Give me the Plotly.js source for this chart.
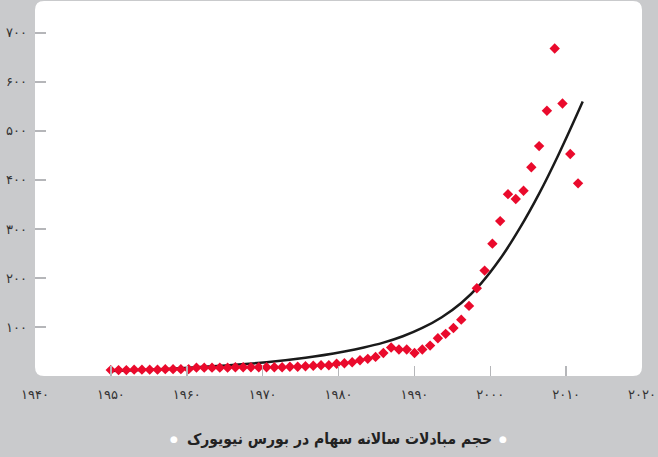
<!DOCTYPE html>
<html>
<head>
<meta charset="utf-8">
<script src="https://cdn.plot.ly/plotly-3.0.1.min.js"></script>
<style>
html,body{margin:0;padding:0;background:#c9cacc;}
#chart{width:658px;height:457px;}
</style>
</head>
<body>
<div id="chart"></div>
<script>
// Annual NYSE share volume (red diamonds)
const years = [];
for (let y = 1950; y <= 2010; y++) years.push(y);
const volumes = [
  12,12,12,13,13,13,13,14,14,14,14,      // 1950-1960
  17,17,17,17,17,18,18,                  // 1961-1967
  18,18,18,18,18,19,19,20,21,22,22,      // 1968-1978
  25,26,28,32,35,39,47,58,54,54,         // 1979-1988
  47,54,62,77,86,98,115,143,179,215,     // 1989-1998
  270,316,371,361,378,426,469,541,668,556, // 1999-2008
  453,393                                // 2009-2010
];
// Trend curve (black line)
const trendYears = [1950,1960,1970,1975,1980,1982.5,1985,1987.5,1990,1992.5,1995,1997.5,2000,2002.5,2005,2007.5,2010.6];
const trendValues = [10,17,28,37,50,58,68,81,98,120,149,188,239,301,372,452,560];

// Axis tick labels
const xTickVals = [1940,1950,1960,1970,1980,1990,2000,2010,2020];
const xTickText = ['۱۹۴۰','۱۹۵۰','۱۹۶۰','۱۹۷۰','۱۹۸۰','۱۹۹۰','۲۰۰۰','۲۰۱۰','۲۰۲۰'];
const yTickVals = [100,200,300,400,500,600,700];
const yTickText = ['۱۰۰','۲۰۰','۳۰۰','۴۰۰','۵۰۰','۶۰۰','۷۰۰'];
const legendText = 'حجم مبادلات سالانه سهام در بورس نیویورک';

const W = 607, H = 375, R = 9;
const rx = R / W, ry = R / H;
const roundedPath = `M ${rx},0 L ${1-rx},0 Q 1,0 1,${ry} L 1,${1-ry} Q 1,1 ${1-rx},1 L ${rx},1 Q 0,1 0,${1-ry} L 0,${ry} Q 0,0 ${rx},0 Z`;

const traces = [
  { // empty trace so the labelled x/y subplot is drawn
    x: [], y: [], xaxis: 'x', yaxis: 'y', type: 'scatter', mode: 'markers', hoverinfo: 'skip'
  },
  {
    x: trendYears, y: trendValues, xaxis: 'x2', yaxis: 'y',
    type: 'scatter', mode: 'lines',
    line: {color: '#1a1a1a', width: 2.5, shape: 'spline', smoothing: 1.2},
    hoverinfo: 'skip'
  },
  {
    x: years, y: volumes, xaxis: 'x2', yaxis: 'y',
    type: 'scatter', mode: 'markers',
    marker: {symbol: 'diamond', size: 8, color: '#ea0a2c'},
  }
];

const tickFont = {family: 'DejaVu Sans, sans-serif', size: 13, color: '#333'};

const layout = {
  width: 658, height: 457,
  margin: {l: 35, r: 16, t: 1, b: 81},
  paper_bgcolor: '#c9cacc',
  plot_bgcolor: 'rgba(0,0,0,0)',
  showlegend: false,
  xaxis: {
    range: [1940, 2020], tickvals: xTickVals, ticktext: xTickText,
    ticks: 'inside', ticklen: 10, tickwidth: 1.5, tickcolor: '#b5b6b9',
    showgrid: false, zeroline: false, showline: false,
    tickfont: tickFont, ticklabelstandoff: 9, fixedrange: true
  },
  xaxis2: {
    range: [1940.27, 2018.21], overlaying: 'x', visible: false, fixedrange: true
  },
  yaxis: {
    range: [0, 765], tickvals: yTickVals, ticktext: yTickText,
    ticks: 'inside', ticklen: 11, tickwidth: 1.5, tickcolor: '#b5b6b9',
    showgrid: false, zeroline: false, showline: false,
    tickfont: tickFont, ticklabelstandoff: 7, fixedrange: true
  },
  shapes: [{
    type: 'path', xref: 'paper', yref: 'paper', path: roundedPath,
    fillcolor: '#ffffff', line: {width: 0}, layer: 'below'
  }],
  annotations: [
    {
      xref: 'paper', yref: 'paper', x: (339 - 35) / W, y: -0.168, yanchor: 'middle', xanchor: 'center',
      showarrow: false, text: '<b>' + legendText + '</b>',
      font: {family: 'DejaVu Sans Condensed, DejaVu Sans, sans-serif', size: 15.5, color: '#222'}
    },
    {
      xref: 'paper', yref: 'paper', x: (174 - 35) / W, y: -0.168, yanchor: 'middle', xanchor: 'center',
      showarrow: false, text: '●', font: {family: 'DejaVu Sans', size: 9, color: '#ffffff'}
    },
    {
      xref: 'paper', yref: 'paper', x: (503 - 35) / W, y: -0.168, yanchor: 'middle', xanchor: 'center',
      showarrow: false, text: '●', font: {family: 'DejaVu Sans', size: 9, color: '#ffffff'}
    }
  ]
};

Plotly.newPlot('chart', traces, layout, {displayModeBar: false, staticPlot: true});
</script>
</body>
</html>
